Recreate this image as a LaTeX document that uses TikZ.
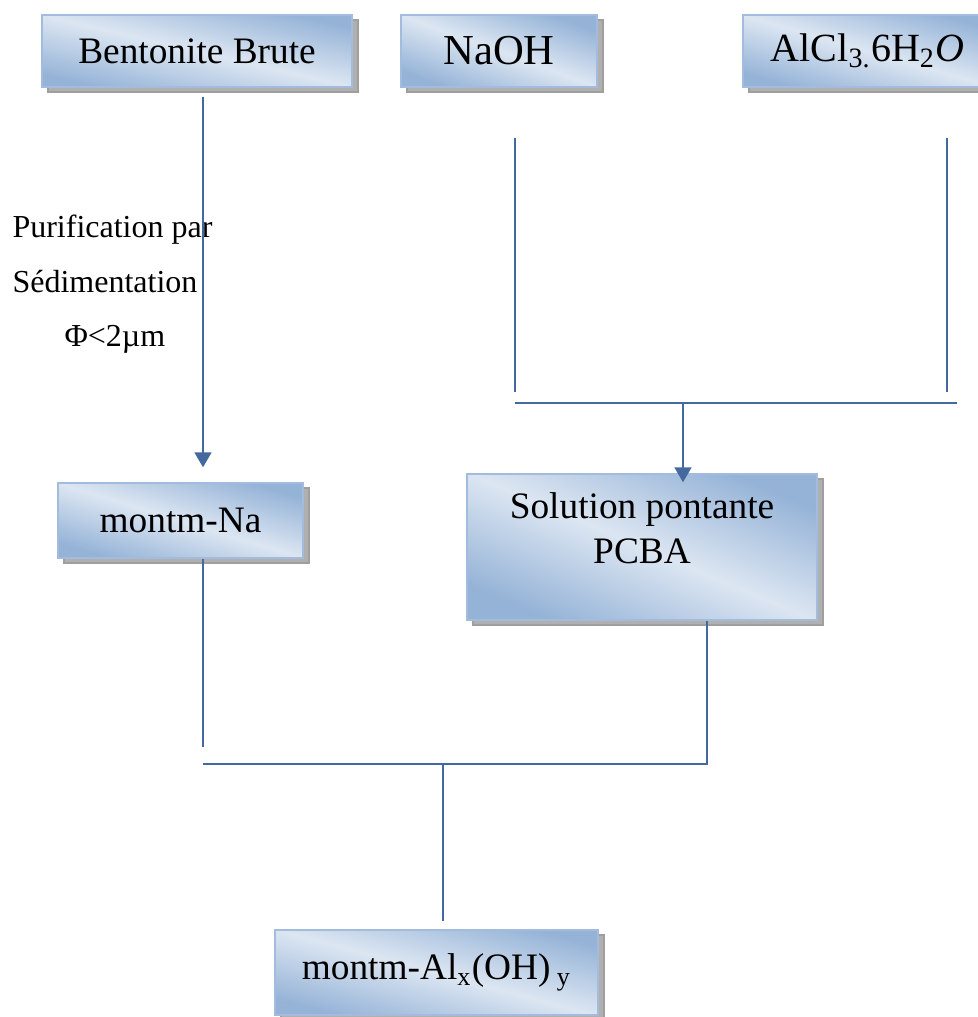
\documentclass[tikz,border=0pt]{standalone}
\usepackage{fontspec}
\setmainfont{Liberation Serif}
\usetikzlibrary{arrows.meta,shadows,positioning,calc}
\definecolor{boxlight}{HTML}{DCE6F2}
\definecolor{boxdark}{HTML}{95B3D7}
\definecolor{boxedge}{HTML}{A3BCDD}
\definecolor{flowline}{HTML}{44699E}
\begin{document}
\begin{tikzpicture}[
            x=0.375pt, y=-0.375pt,
            box/.style={draw=boxedge, line width=0.6pt, rectangle, inner sep=0pt,
                    top color=boxdark, bottom color=boxdark, middle color=boxlight, shading angle=#1,
                    drop shadow={shadow xshift=2.25pt, shadow yshift=-1.9pt, fill=gray!62, draw=gray!75, opacity=1},
                    font=\fontsize{14}{17}\selectfont},
            flow/.style={draw=flowline, line width=0.85pt},
            arrow/.style={flow, -{Triangle[width=6.3pt,length=5.6pt]}},
            note/.style={anchor=base west, inner sep=0pt, font=\fontsize{12}{14}\selectfont}
        ]
        \useasboundingbox (0,0) rectangle (977,1017);
        \node[box=-13, minimum width=116.25pt, minimum height=27pt] (bb) at (197,51) {Bentonite Brute};
        \node[box=-20, minimum width=73.5pt, minimum height=27pt, font=\fontsize{16}{19}\selectfont] (naoh) at (499,51) {NaOH};
        \node[box=-16, minimum width=93.4pt, minimum height=27pt, font=\fontsize{15}{18}\selectfont] (alcl) at (867.5,51) {AlCl\textsubscript{3.}6H\textsubscript{2}\textit{O}};
        \node[box=-17, minimum width=91.9pt, minimum height=28.1pt] (mna) at (180.5,520.5) {montm-Na};
        \node[box=-23, minimum width=131.25pt, minimum height=54.75pt,
            label={[anchor=north, yshift=-7.1pt, align=center, inner sep=0pt, font=\fontsize{14}{17}\selectfont]north:Solution pontante\\PCBA}] (sol) at (642,547) {};
        \node[box=-15, minimum width=121.1pt, minimum height=31.9pt] (mal) at (436.5,972.5) {montm-Al\textsubscript{x}(OH)\,\textsubscript{y}};

        \node[note] (t1) at (12,237) {Purification par};
        \node[note] (t2) at (12,292) {Sédimentation};
        \node[note] (t3) at (64,346) {Φ<2µm};

        \coordinate (b1) at (203,97);
        \draw[arrow, shorten >=5.6pt] (b1) -- (b1 |- mna.north);

        \coordinate (n1) at (515,138);
        \coordinate (n2) at (515,392);
        \coordinate (a1) at (947,138);
        \coordinate (a2) at (947,392);
        \draw[flow] (n1) -- (n2);
        \draw[flow] (a1) -- (a2);
        \coordinate (j1) at (515,403);
        \coordinate (j2) at (957,403);
        \coordinate (j3) at (683,403);
        \draw[flow] (j1) -- (j2);
        \draw[arrow, shorten >=-3.4pt] (j3) -- (j3 |- sol.north);

        \coordinate (m1) at (b1 |- mna.south);
        \coordinate (m2) at (203,747);
        \coordinate (s1) at ($(sol.south)+(65,0)$);
        \coordinate (k1) at (203,764);
        \coordinate (k2) at (443,764);
        \draw[flow] (m1) -- (m2);
        \draw[flow] (s1) -- (s1 |- k1) -- (k1);
        \draw[flow, shorten >=3pt] (k2) -- (k2 |- mal.north);
    \end{tikzpicture}
\end{document}
